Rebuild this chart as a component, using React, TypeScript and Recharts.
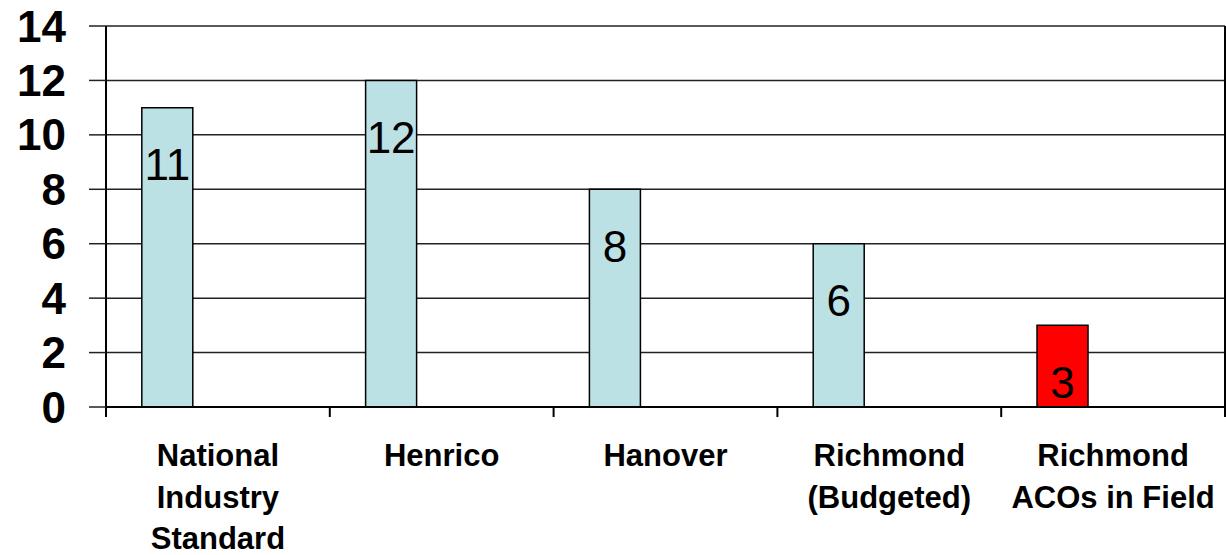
import React from "react";
import { BarChart, Bar, XAxis, YAxis, CartesianGrid, Cell, LabelList } from "recharts";

const categories = [
  "National\nIndustry\nStandard",
  "Henrico",
  "Hanover",
  "Richmond\n(Budgeted)",
  "Richmond\nACOs in Field",
];
const values = [11, 12, 8, 6, 3];
const barColors = ["#BCE1E4", "#BCE1E4", "#BCE1E4", "#BCE1E4", "#FF0000"];
const yTicks = [0, 2, 4, 6, 8, 10, 12, 14];

const data = categories.map((c, i) => ({
  name: c,
  value: values[i],
  empty1: null,
  empty2: null,
}));

const FONT = "'Liberation Sans', Arial, Helvetica, sans-serif";

const XTick = (props: any) => {
  const { x, y, payload, index, width } = props;
  const bw = (width || 1119) / categories.length;
  const lines = String(payload.value).split("\n");
  return (
    <g>
      <line x1={x - bw / 2} x2={x - bw / 2} y1={y} y2={y + 10} stroke="#000" strokeWidth={2} />
      {index === categories.length - 1 && (
        <line x1={x + bw / 2} x2={x + bw / 2} y1={y} y2={y + 10} stroke="#000" strokeWidth={2} />
      )}
      <text
        x={x}
        y={y + 59}
        textAnchor="middle"
        fontFamily={FONT}
        fontWeight="bold"
        fontSize={31}
        fill="#000"
      >
        {lines.map((l, i) => (
          <tspan key={i} x={x} dy={i === 0 ? 0 : 41.5}>
            {l}
          </tspan>
        ))}
      </text>
    </g>
  );
};

const ValueLabel = (props: any) => {
  const { x, y, width, value } = props;
  if (value == null) return null;
  return (
    <text
      x={x + width / 2}
      y={y + 57}
      textAnchor="middle"
      dominantBaseline="central"
      fontFamily={FONT}
      fontSize={44}
      fill="#000"
    >
      {value}
    </text>
  );
};

export default function App() {
  return (
    <div style={{ position: "absolute", left: 0, top: 0, width: 1226, height: 555, background: "#fff" }}>
      <BarChart
        width={1226}
        height={555}
        data={data}
        margin={{ top: 26, right: 0, bottom: 0, left: 0 }}
        barGap={0}
        barCategoryGap="16%"
      >
        <CartesianGrid vertical={false} stroke="#222" strokeWidth={1.5} />
        <XAxis
          dataKey="name"
          height={148}
          interval={0}
          tickLine={false}
          tickSize={0}
          tickMargin={0}
          axisLine={{ stroke: "#000", strokeWidth: 2 }}
          tick={<XTick />}
        />
        <YAxis
          domain={[0, 14]}
          ticks={yTicks}
          interval={0}
          width={106}
          tickSize={17}
          tickMargin={23}
          axisLine={{ stroke: "#000", strokeWidth: 2 }}
          tickLine={{ stroke: "#222", strokeWidth: 1.5 }}
          tick={{ fill: "#000", fontFamily: FONT, fontWeight: "bold", fontSize: 44 }}
        />
        <YAxis
          yAxisId="right"
          orientation="right"
          domain={[0, 14]}
          width={1}
          tick={false}
          tickLine={false}
          axisLine={{ stroke: "#000", strokeWidth: 2 }}
        />
        <Bar dataKey="value" stroke="#000" strokeWidth={1.5} isAnimationActive={false}>
          {data.map((d, i) => (
            <Cell key={i} fill={barColors[i]} />
          ))}
          <LabelList dataKey="value" content={<ValueLabel />} />
        </Bar>
        <Bar dataKey="empty1" fill="#BCE1E4" isAnimationActive={false} />
        <Bar dataKey="empty2" fill="#BCE1E4" isAnimationActive={false} />
      </BarChart>
    </div>
  );
}
